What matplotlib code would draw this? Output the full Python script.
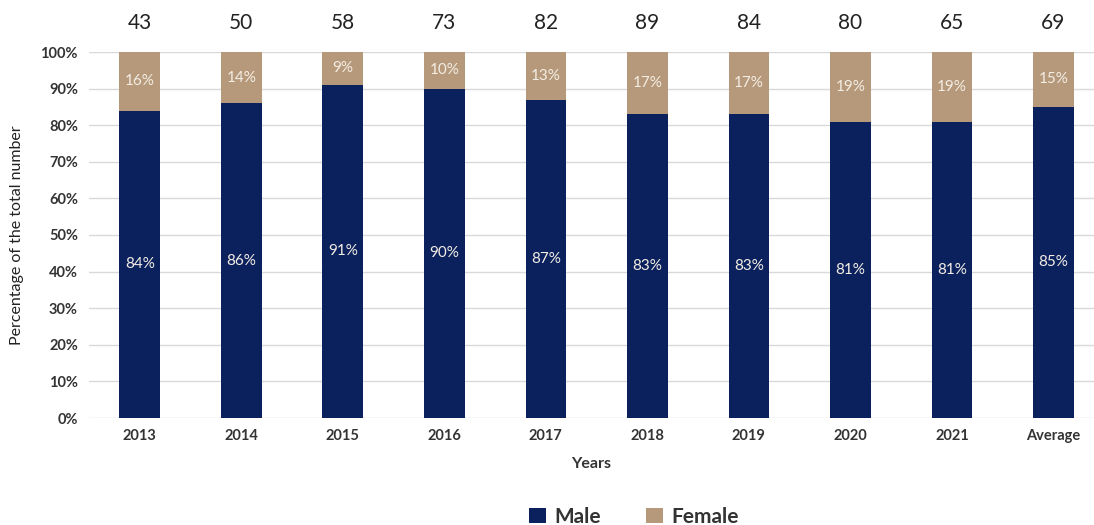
import matplotlib
matplotlib.use("Agg")
import matplotlib.pyplot as plt
import numpy as np

categories = ["2013", "2014", "2015", "2016", "2017", "2018", "2019", "2020", "2021", "Average"]
male = [84, 86, 91, 90, 87, 83, 83, 81, 81, 85]
female = [16, 14, 9, 10, 13, 17, 17, 19, 19, 15]
totals = [43, 50, 58, 73, 82, 89, 84, 80, 65, 69]

navy = "#0b215e"
tan = "#b6997a"
label_col = "#f3ede4"

plt.rcParams['font.family'] = ['Lato', 'DejaVu Sans']

fig = plt.figure(figsize=(10.94, 5.25), dpi=100)
ax = fig.add_axes([89/1094, 107/525, 1005/1094, 366/525])

x = np.arange(len(categories))
w = 0.4
ax.bar(x, male, width=w, color=navy, label="Male", zorder=3)
ax.bar(x, female, width=w, bottom=male, color=tan, label="Female", zorder=3)

for i in range(len(categories)):
    ax.text(x[i], male[i] / 2, f"{male[i]}%", ha="center", va="center",
            color=label_col, fontsize=11, zorder=4)
    ax.text(x[i], male[i] + female[i] / 2, f"{female[i]}%", ha="center", va="center",
            color=label_col, fontsize=11, zorder=4)
    ax.text(x[i], 108, str(totals[i]), ha="center", va="center",
            color="#222222", fontsize=15, clip_on=False)

ax.set_xlim(-0.5, 9.4)
ax.set_ylim(0, 100)
ax.set_yticks(np.arange(0, 101, 10))
ax.set_yticklabels([f"{v}%" for v in range(0, 101, 10)], fontsize=10.5, color="#333333", fontweight="bold")
ax.set_xticks(x)
ax.set_xticklabels(categories, fontsize=10.5, color="#333333", fontweight="bold")
ax.tick_params(axis="both", length=0, pad=8)
ax.grid(axis="y", color="#d9d9d9", linewidth=1, zorder=0)
for s in ax.spines.values():
    s.set_visible(False)

ax.set_xlabel("Years", fontsize=11.5, color="#333333", fontweight="bold", labelpad=10)
ax.set_ylabel("Percentage of the total number", fontsize=11.5, color="#222222", labelpad=12)

leg = fig.legend(loc="center", bbox_to_anchor=(634/1094, 1 - 517/525), ncol=2, frameon=False,
                 prop={"size": 15, "weight": "bold"}, handlelength=0.8, handleheight=0.7,
                 columnspacing=2.2, handletextpad=0.4)
for t in leg.get_texts():
    t.set_color("#333333")

fig.savefig("out.png", dpi=100)
